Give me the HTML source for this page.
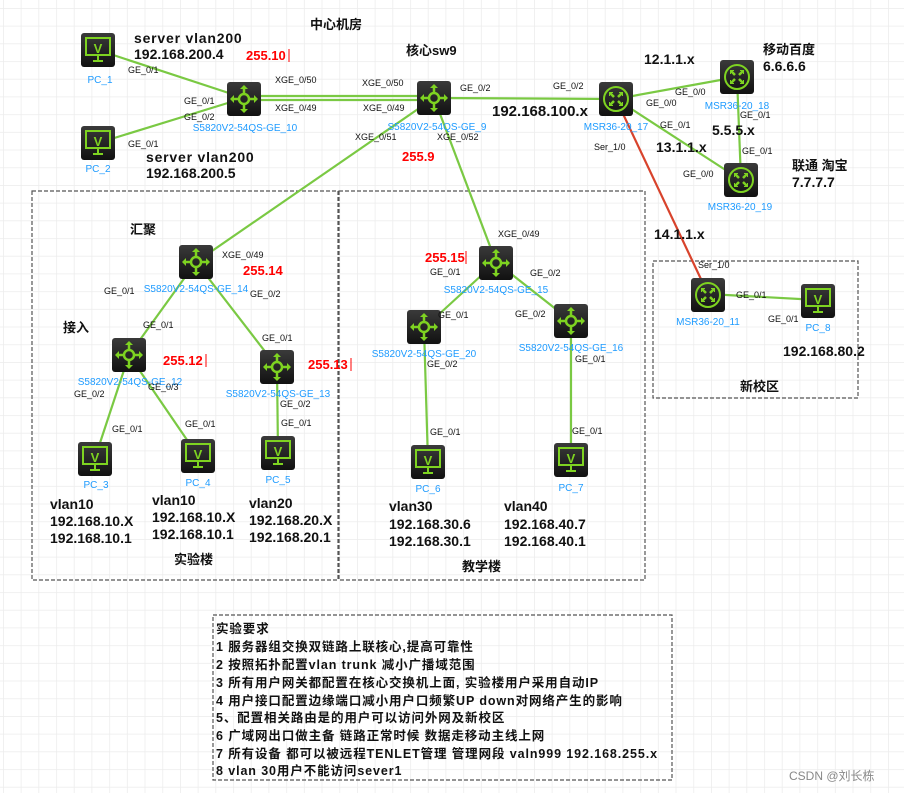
<!DOCTYPE html>
<html><head><meta charset="utf-8"><style>
html,body{margin:0;padding:0;background:#fff;}
svg{display:block;font-family:"Liberation Sans","Noto Sans CJK SC",sans-serif;}
.b{font-weight:bold;font-size:14px;fill:#111;}
.p{font-size:9px;fill:#111;}
.n{font-size:10px;fill:#1e9bff;}
.r{font-weight:bold;font-size:13px;fill:#f00;}
.t{font-weight:bold;font-size:12.5px;fill:#111;letter-spacing:0.9px;}
</style></head><body>
<svg width="904" height="793" viewBox="0 0 904 793" xmlns="http://www.w3.org/2000/svg">
<defs>
<pattern id="g" x="3" y="8" width="17.7" height="17.7" patternUnits="userSpaceOnUse">
<path d="M0 0H17.7M0 0V17.7" stroke="#ececec" stroke-width="1.5" fill="none"/>
</pattern>
<linearGradient id="gr" x1="0" y1="0" x2="0" y2="1"><stop offset="0" stop-color="#3a3a3a"/><stop offset="1" stop-color="#111"/></linearGradient>
<g id="pc"><rect x="-17" y="-17" width="34" height="34" rx="3" fill="url(#gr)"/><rect x="-12" y="-12" width="24" height="17" fill="none" stroke="#7ed321" stroke-width="2"/><text x="0" y="3" font-size="13" font-weight="bold" fill="#7ed321" text-anchor="middle">V</text><path d="M-5 11H5M0 6V11" stroke="#7ed321" stroke-width="2"/></g>
<g id="sw"><rect x="-17" y="-17" width="34" height="34" rx="3" fill="url(#gr)"/><circle r="5" fill="none" stroke="#7ed321" stroke-width="2.5"/><path d="M0-5V-12M0 5V12M-5 0H-12M5 0H12" stroke="#7ed321" stroke-width="2.5"/><path d="M-4-10L0-14L4-10ZM-4 10L0 14L4 10ZM-10-4L-14 0L-10 4ZM10-4L14 0L10 4Z" fill="#7ed321"/></g>
<g id="rt"><rect x="-17" y="-17" width="34" height="34" rx="3" fill="url(#gr)"/><circle r="12" fill="none" stroke="#7ed321" stroke-width="2"/><path d="M-6-6L-2-2M6-6L2-2M-6 6L-2 2M6 6L2 2" stroke="#7ed321" stroke-width="2.5"/><path d="M-7-7h4v1h-3v3h-1zM7-7h-4v1h3v3h1zM-7 7h4v-1h-3v-3h-1zM7 7h-4v-1h3v-3h1z" fill="#7ed321"/></g>
</defs>
<rect width="904" height="793" fill="url(#g)"/>
<g fill="none" stroke="#555" stroke-width="1.2" stroke-dasharray="4,2">
<rect x="32" y="191" width="306" height="389"/>
<rect x="339" y="191" width="306" height="389"/>
<rect x="653" y="261" width="205" height="137"/>
<rect x="213" y="615" width="459" height="165"/>
</g>
<g stroke="#7ac943" stroke-width="2.2" fill="none">
<line x1="98" y1="50" x2="244" y2="98"/>
<line x1="98" y1="143" x2="244" y2="98"/>
<line x1="244" y1="96" x2="434" y2="96"/>
<line x1="244" y1="100" x2="434" y2="100"/>
<line x1="434" y1="98" x2="616" y2="99"/>
<line x1="616" y1="99" x2="737" y2="77"/>
<line x1="616" y1="99" x2="741" y2="180"/>
<line x1="737" y1="77" x2="741" y2="180"/>
<line x1="434" y1="98" x2="196" y2="262"/>
<line x1="434" y1="98" x2="496" y2="262"/>
<line x1="196" y1="262" x2="129" y2="355"/>
<line x1="196" y1="262" x2="277" y2="367"/>
<line x1="129" y1="355" x2="95" y2="458"/>
<line x1="129" y1="355" x2="198" y2="456"/>
<line x1="277" y1="367" x2="278" y2="453"/>
<line x1="496" y1="262" x2="424" y2="328"/>
<line x1="496" y1="262" x2="571" y2="321"/>
<line x1="424" y1="328" x2="428" y2="462"/>
<line x1="571" y1="321" x2="571" y2="460"/>
<line x1="708" y1="294" x2="818" y2="300"/>
</g>
<line x1="616" y1="99" x2="708" y2="294" stroke="#d8432c" stroke-width="2.2"/>
<use href="#pc" x="98" y="50"/><use href="#pc" x="98" y="143"/>
<use href="#sw" x="244" y="99"/><use href="#sw" x="434" y="98"/>
<use href="#rt" x="616" y="99"/><use href="#rt" x="737" y="77"/><use href="#rt" x="741" y="180"/>
<use href="#sw" x="196" y="262"/><use href="#sw" x="129" y="355"/><use href="#sw" x="277" y="367"/>
<use href="#pc" x="95" y="459"/><use href="#pc" x="198" y="456"/><use href="#pc" x="278" y="453"/>
<use href="#sw" x="496" y="263"/><use href="#sw" x="424" y="327"/><use href="#sw" x="571" y="321"/>
<use href="#pc" x="428" y="462"/><use href="#pc" x="571" y="460"/>
<use href="#rt" x="708" y="295"/><use href="#pc" x="818" y="301"/>
<g class="n" text-anchor="middle">
<text x="100" y="83">PC_1</text><text x="98" y="172">PC_2</text>
<text x="245" y="131">S5820V2-54QS-GE_10</text><text x="437" y="130">S5820V2-54QS-GE_9</text>
<text x="616" y="130">MSR36-20_17</text><text x="737" y="109">MSR36-20_18</text><text x="740" y="210">MSR36-20_19</text>
<text x="196" y="292">S5820V2-54QS-GE_14</text><text x="130" y="385">S5820V2-54QS-GE_12</text><text x="278" y="397">S5820V2-54QS-GE_13</text>
<text x="96" y="488">PC_3</text><text x="198" y="486">PC_4</text><text x="278" y="483">PC_5</text>
<text x="496" y="293">S5820V2-54QS-GE_15</text><text x="424" y="357">S5820V2-54QS-GE_20</text><text x="571" y="351">S5820V2-54QS-GE_16</text>
<text x="428" y="492">PC_6</text><text x="571" y="491">PC_7</text>
<text x="708" y="325">MSR36-20_11</text><text x="818" y="331">PC_8</text>
</g>
<g class="p">
<text x="128" y="73">GE_0/1</text><text x="184" y="104">GE_0/1</text><text x="184" y="120">GE_0/2</text><text x="128" y="147">GE_0/1</text>
<text x="275" y="83">XGE_0/50</text><text x="275" y="111">XGE_0/49</text>
<text x="362" y="86">XGE_0/50</text><text x="363" y="111">XGE_0/49</text>
<text x="355" y="140">XGE_0/51</text><text x="437" y="140">XGE_0/52</text>
<text x="460" y="91">GE_0/2</text><text x="553" y="89">GE_0/2</text>
<text x="675" y="95">GE_0/0</text><text x="646" y="106">GE_0/0</text><text x="660" y="128">GE_0/1</text>
<text x="740" y="118">GE_0/1</text><text x="742" y="154">GE_0/1</text><text x="683" y="177">GE_0/0</text>
<text x="594" y="150">Ser_1/0</text>
<text x="222" y="258">XGE_0/49</text><text x="104" y="294">GE_0/1</text><text x="250" y="297">GE_0/2</text>
<text x="143" y="328">GE_0/1</text><text x="262" y="341">GE_0/1</text>
<text x="74" y="397">GE_0/2</text><text x="148" y="390">GE_0/3</text><text x="280" y="407">GE_0/2</text>
<text x="112" y="432">GE_0/1</text><text x="185" y="427">GE_0/1</text><text x="281" y="426">GE_0/1</text>
<text x="498" y="237">XGE_0/49</text><text x="430" y="275">GE_0/1</text><text x="530" y="276">GE_0/2</text>
<text x="438" y="318">GE_0/1</text><text x="515" y="317">GE_0/2</text>
<text x="427" y="367">GE_0/2</text><text x="575" y="362">GE_0/1</text>
<text x="430" y="435">GE_0/1</text><text x="572" y="434">GE_0/1</text>
<text x="698" y="268">Ser_1/0</text><text x="736" y="298">GE_0/1</text><text x="768" y="322">GE_0/1</text>
</g>
<g class="b">
<text x="134" y="43" letter-spacing="0.8">server vlan200</text><text x="134" y="59">192.168.200.4</text>
<text x="146" y="162" letter-spacing="0.8">server vlan200</text><text x="146" y="178">192.168.200.5</text>
<text x="310" y="29" font-size="13">中心机房</text><text x="406" y="55" font-size="13">核心sw9</text>
<text x="492" y="116" font-size="15">192.168.100.x</text><text x="644" y="64">12.1.1.x</text>
<text x="763" y="54" font-size="13">移动百度</text><text x="763" y="71">6.6.6.6</text>
<text x="712" y="135">5.5.5.x</text><text x="656" y="152">13.1.1.x</text>
<text x="792" y="170" font-size="13">联通 淘宝</text><text x="792" y="187">7.7.7.7</text>
<text x="654" y="239">14.1.1.x</text>
<text x="130" y="234" font-size="13">汇聚</text><text x="63" y="332" font-size="13">接入</text>
<text x="50" y="509">vlan10</text><text x="50" y="526">192.168.10.X</text><text x="50" y="543">192.168.10.1</text>
<text x="152" y="505">vlan10</text><text x="152" y="522">192.168.10.X</text><text x="152" y="539">192.168.10.1</text>
<text x="249" y="508">vlan20</text><text x="249" y="525">192.168.20.X</text><text x="249" y="542">192.168.20.1</text>
<text x="174" y="564" font-size="13">实验楼</text>
<text x="389" y="511">vlan30</text><text x="389" y="529">192.168.30.6</text><text x="389" y="546">192.168.30.1</text>
<text x="504" y="511">vlan40</text><text x="504" y="529">192.168.40.7</text><text x="504" y="546">192.168.40.1</text>
<text x="462" y="571" font-size="13">教学楼</text>
<text x="783" y="356">192.168.80.2</text><text x="740" y="391" font-size="13">新校区</text>
</g>
<g class="r">
<text x="246" y="60">255.10</text><text x="402" y="161">255.9</text>
<text x="243" y="275">255.14</text><text x="163" y="365">255.12</text><text x="308" y="369">255.13</text>
<text x="425" y="262">255.15</text>
</g>
<g stroke="#f00" stroke-width="1"><line x1="289" y1="49" x2="289" y2="62"/><line x1="206" y1="354" x2="206" y2="367"/><line x1="351" y1="358" x2="351" y2="371"/><line x1="466" y1="251" x2="466" y2="264"/></g>
<g class="t">
<text x="216" y="633">实验要求</text>
<text x="216" y="651">1 服务器组交换双链路上联核心,提高可靠性</text>
<text x="216" y="669">2 按照拓扑配置vlan trunk 减小广播域范围</text>
<text x="216" y="687">3 所有用户网关都配置在核心交换机上面, 实验楼用户采用自动IP</text>
<text x="216" y="705">4 用户接口配置边缘端口减小用户口频繁UP  down对网络产生的影响</text>
<text x="216" y="722">5、配置相关路由是的用户可以访问外网及新校区</text>
<text x="216" y="740">6 广域网出口做主备 链路正常时候 数据走移动主线上网</text>
<text x="216" y="758">7 所有设备 都可以被远程TENLET管理  管理网段 valn999 192.168.255.x</text>
<text x="216" y="775">8 vlan 30用户不能访问sever1</text>
</g>
<text x="789" y="780" font-size="12" fill="#888">CSDN @刘长栋</text>
</svg>
</body></html>
